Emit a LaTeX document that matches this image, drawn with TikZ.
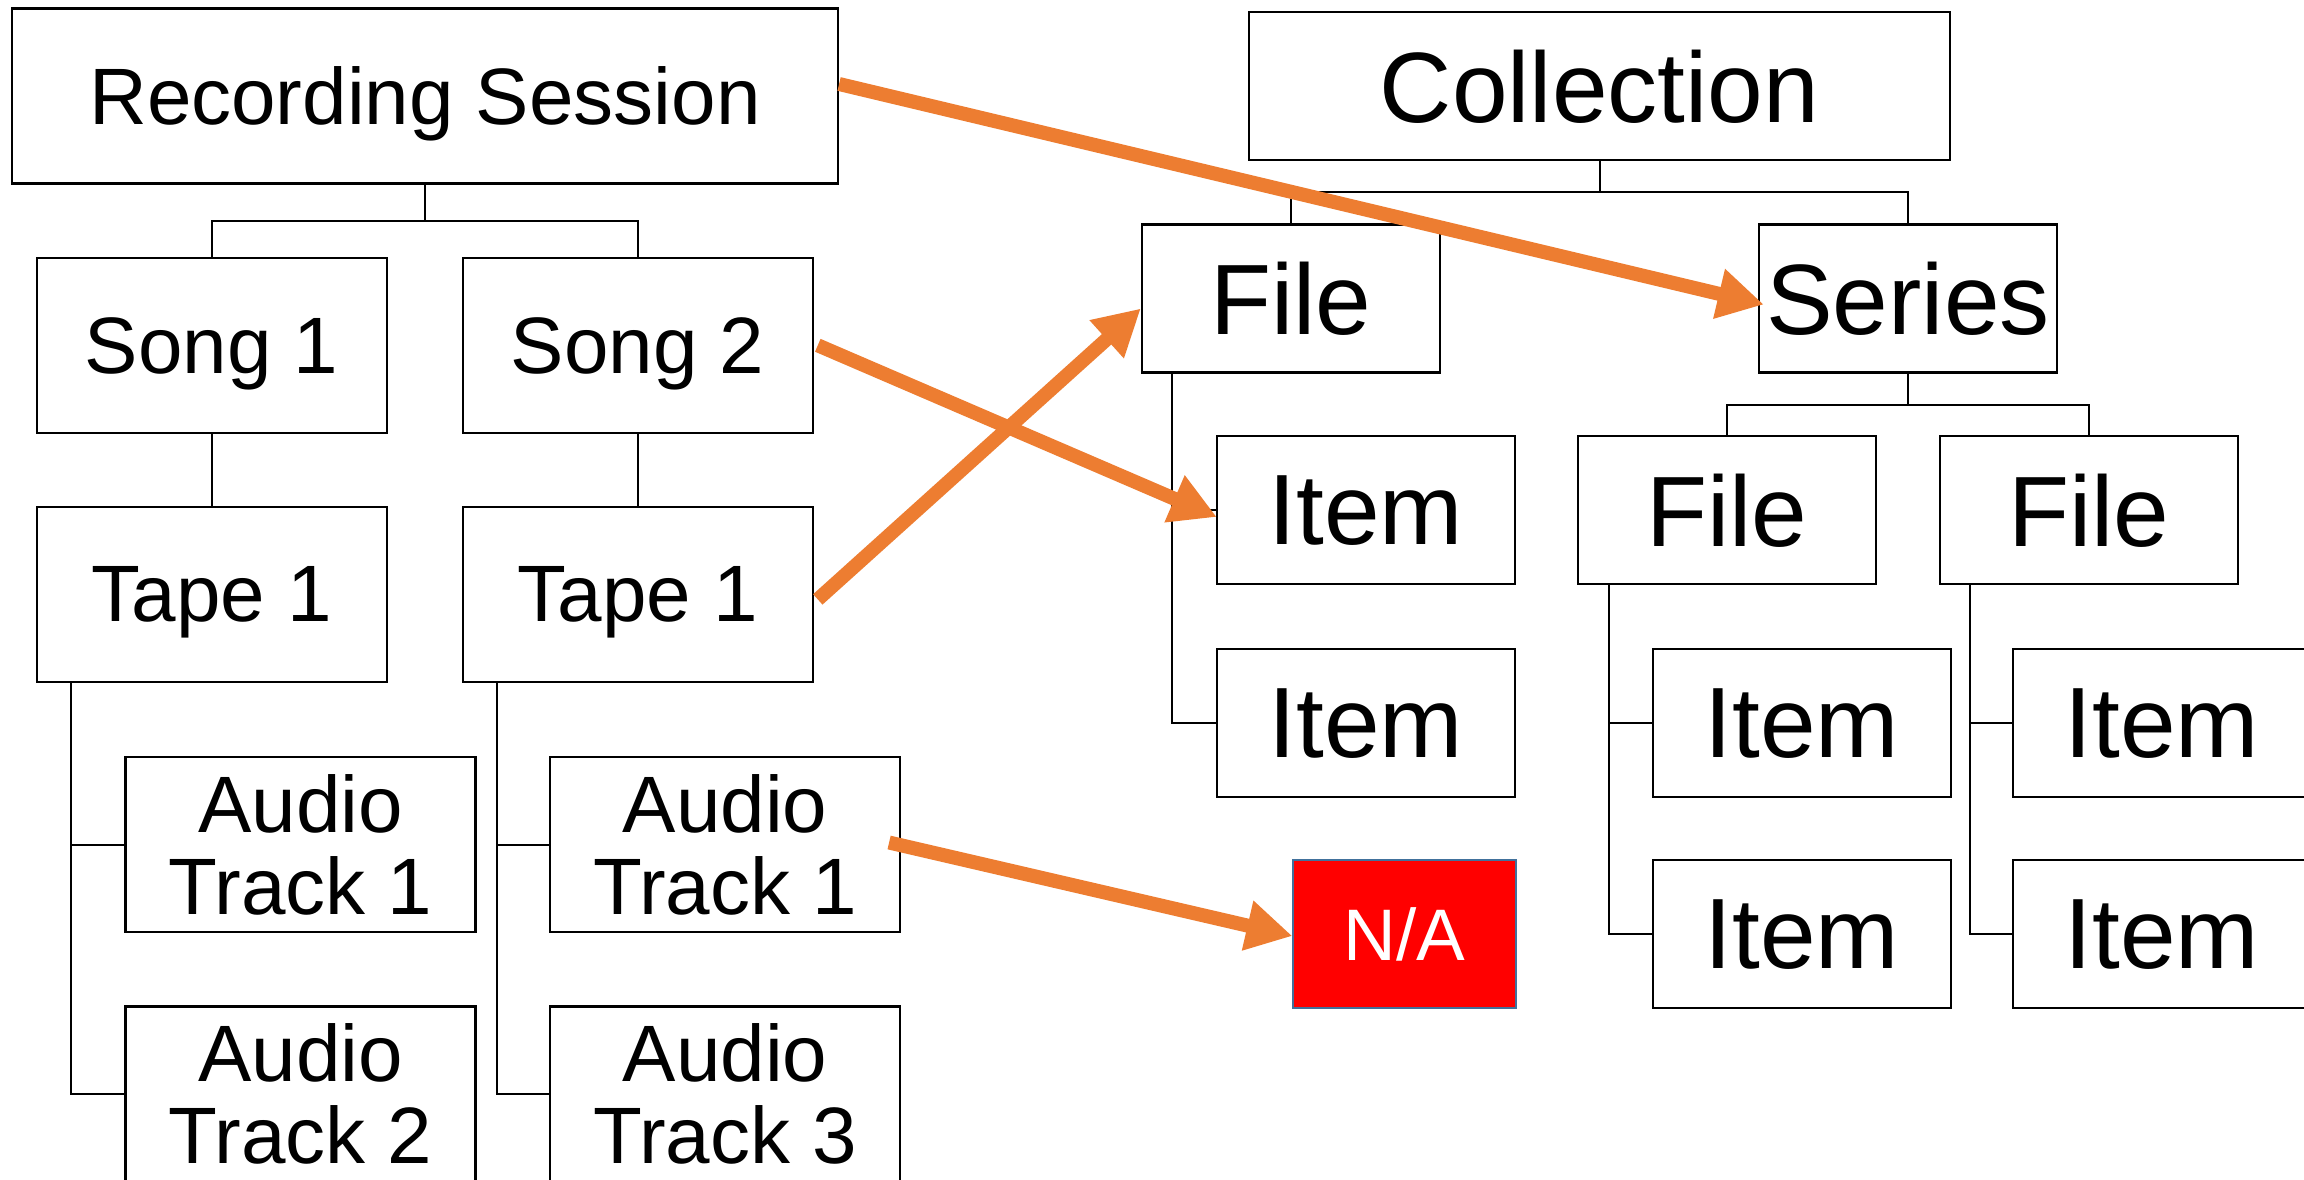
\documentclass[tikz,border=0pt]{standalone}
\usepackage{fontspec}
\setmainfont{Liberation Sans}
\usetikzlibrary{arrows.meta,calc}
\definecolor{orng}{RGB}{237,125,49}
\definecolor{nared}{RGB}{255,0,0}
\definecolor{naborder}{RGB}{65,113,156}
\begin{document}
\begin{tikzpicture}[x=0.5pt,y=-0.5pt,
  lbox/.style={draw=black, line width=1.1pt, fill=white, inner sep=0pt,
    minimum width=175pt, minimum height=87.5pt, text depth=0pt,
    font=\fontsize{40}{41}\selectfont},
  abox/.style={lbox, text depth=, align=center},
  rbox/.style={draw=black, line width=1.2pt, fill=white, inner sep=0pt,
    minimum width=149pt, minimum height=74pt, text depth=0pt,
    font=\fontsize{50}{52}\selectfont},
  nabox/.style={draw=naborder, line width=0.8pt, fill=nared, text=white, inner sep=0pt,
    minimum width=111.5pt, minimum height=74pt,
    font=\fontsize{36.5}{38}\selectfont},
  tl/.style={draw=black, line width=1pt},
  arr/.style={draw=orng, line width=7pt, -{Triangle[length=23pt,width=24pt]}}
]
\useasboundingbox (0,0) rectangle (2304,1179);
\fill[white] (0,0) rectangle (2304,1179);

% left tree
\node[lbox, minimum width=413pt] (rs) at (425,96) {Recording Session};
\node[lbox] (song1) at (211.6,345.3) {Song 1};
\node[lbox] (song2) at (637.7,345.3) {Song 2};
\node[lbox] (tape1) at (211.6,594.4) {Tape 1};
\node[lbox] (tape2) at (637.7,594.4) {Tape 1};
\node[abox] (at1) at (300.5,844.5) {Audio\\Track 1};
\node[abox] (at2) at (300.5,1094) {Audio\\Track 2};
\node[abox] (at1b) at (725,844.5) {Audio\\Track 1};
\node[abox] (at3) at (725,1094) {Audio\\Track 3};

\coordinate (rsb) at ($(rs.south)+(0,36)$);
\draw[tl] (rs.south) -- (rsb);
\draw[tl] (song1.north) |- (rsb) -| (song2.north);
\draw[tl] (song1.south) -- (tape1.north);
\draw[tl] (song2.south) -- (tape2.north);
\coordinate (t1b) at ($(tape1.south west)+(35,0)$);
\coordinate (t2b) at ($(tape2.south west)+(35,0)$);
\draw[tl] (t1b) |- (at1.west) (t1b) |- (at2.west);
\draw[tl] (t2b) |- (at1b.west) (t2b) |- (at3.west);

% right tree
\node[rbox, minimum width=350.5pt] (coll) at (1599.5,86) {Collection};
\node[rbox] (file0) at (1291,298.5) {File};
\node[rbox] (series) at (1908,298.5) {Series};
\node[rbox] (item1) at (1366,510) {Item};
\node[rbox] (item2) at (1366,723) {Item};
\node[rbox] (file2) at (1727,510) {File};
\node[rbox] (file3) at (2089,510) {File};
\node[rbox] (item3) at (1802,723) {Item};
\node[rbox] (item4) at (1802,934) {Item};
\node[rbox] (item5) at (2162,723) {Item};
\node[rbox] (item6) at (2162,934) {Item};
\node[nabox] (na) at (1404.7,934) {N/A};

\coordinate (cb) at ($(coll.south)+(0,31)$);
\draw[tl] (coll.south) -- (cb);
\draw[tl] (file0.north) |- (cb) -| (series.north);
\coordinate (sb) at ($(series.south)+(0,31.5)$);
\draw[tl] (series.south) -- (sb);
\draw[tl] (file2.north) |- (sb) -| (file3.north);
\coordinate (f0b) at ($(file0.south west)+(31,0)$);
\coordinate (f2b) at ($(file2.south west)+(32.5,0)$);
\coordinate (f3b) at ($(file3.south west)+(31,0)$);
\draw[tl] (f0b) |- (item1.west) (f0b) |- (item2.west);
\draw[tl] (f2b) |- (item3.west) (f2b) |- (item4.west);
\draw[tl] (f3b) |- (item5.west) (f3b) |- (item6.west);

% arrows
\draw[arr] ($(rs.east)+(0,-12)$) -- ($(series.west)+(6,6)$);
\draw[arr] ($(song2.east)+(4,0)$) -- ($(item1.west)+(1,7)$);
\draw[arr] ($(tape2.east)+(4,5)$) -- ($(file0.west)+(0,10)$);
\draw[arr] ($(at1b.east)+(-12,-2)$) -- ($(na.west)+(0,2)$);
\end{tikzpicture}
\end{document}
